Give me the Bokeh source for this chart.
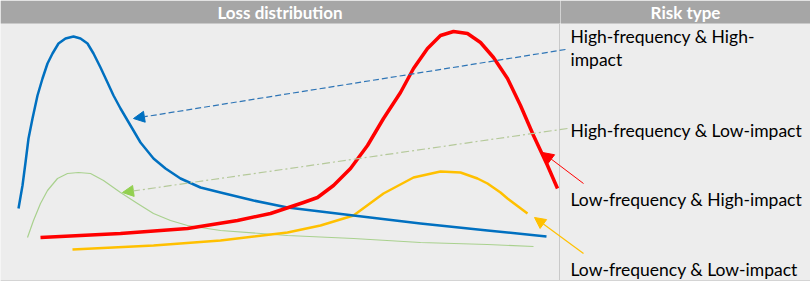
from bokeh.plotting import figure
from bokeh.models import Range1d, Arrow, NormalHead
from bokeh.core.properties import value
from bokeh.embed import file_html
from bokeh.resources import INLINE

# Schematic loss-distribution curves (x = loss position, y = screen-down height)
hf_hi_x = [18, 22, 25, 28, 32, 37, 42, 47, 52, 58, 65, 73, 80, 87, 93, 100, 107, 113, 120,
           130, 140, 153, 165, 180, 200, 220, 253, 287, 353, 420, 487, 546]
hf_hi_y = [208, 185, 162, 138, 118, 95, 78, 63, 53, 43, 38, 36, 38, 43, 53, 67, 82, 95, 108,
           125, 142, 158, 168, 178, 187, 192, 200, 207, 215, 223, 230, 236]

hf_lo_x = [27, 33, 40, 47, 57, 67, 78, 90, 103, 120, 137, 153, 170, 187, 220, 287, 353, 420, 487, 533]
hf_lo_y = [237, 220, 203, 190, 178, 173, 172, 173, 180, 192, 203, 213, 220, 225, 230, 235, 238, 242, 244, 246]

lf_hi_x = [40, 120, 187, 237, 270, 303, 317, 333, 350, 367, 383, 400, 413, 427, 440, 453,
           467, 480, 493, 507, 520, 533, 547, 557]
lf_hi_y = [237, 233, 228, 220, 213, 202, 197, 185, 168, 145, 118, 92, 68, 48, 35, 31,
           33, 42, 57, 78, 105, 135, 165, 188]

lf_lo_x = [72, 153, 220, 287, 320, 353, 383, 413, 440, 460, 477, 487, 500, 507, 527]
lf_lo_y = [249, 245, 240, 232, 225, 215, 193, 177, 171, 172, 178, 183, 192, 198, 213]

risk_labels = ["High-frequency & High-", "impact", "High-frequency & Low-impact",
               "Low-frequency & High-impact", "Low-frequency & Low-impact"]
label_y = [36, 59, 130, 199, 269]

headers = ["Loss distribution", "Risk type"]
header_x = [279.5, 685]

p = figure(width=810, height=281, x_range=Range1d(0, 810), y_range=Range1d(281, 0),
           output_backend="svg", toolbar_location=None, min_border=0,
           background_fill_color="#EDEDED", border_fill_color="#EDEDED")
p.axis.visible = False
p.grid.visible = False
p.outline_line_color = None

# header band and column separators
p.quad(left=0, right=810, top=0, bottom=23, fill_color="#A6A6A6", line_color=None)
p.segment(x0=559, y0=23, x1=559, y1=281, line_color="#C9C9C9", line_width=1)
p.segment(x0=560, y0=0, x1=560, y1=23, line_color="white", line_width=1, line_dash="1 1")
p.segment(x0=0, y0=280, x1=810, y1=280, line_color="#D4D4D4", line_width=1)

p.text(x=header_x, y=[12, 12], text=headers, text_color="white", text_align="center",
       text_baseline="alphabetic", text_font=value("Lato"), text_font_style="bold",
       text_font_size="17px")

# curves
p.line(hf_lo_x, hf_lo_y, line_color="#A9D18E", line_width=1.2, line_join="round")
p.line(lf_lo_x, lf_lo_y, line_color="#FFC000", line_width=2.5, line_join="round")
p.line(hf_hi_x, hf_hi_y, line_color="#0070C0", line_width=2.5, line_join="round")
p.line(lf_hi_x, lf_hi_y, line_color="#FF0000", line_width=3.5, line_join="round")

# pointers from the risk-type labels to their curves
p.add_layout(Arrow(x_start=565, y_start=49, x_end=133, y_end=118,
                   line_color="#2E75B6", line_width=1.2, line_dash="6 3",
                   end=NormalHead(size=11, fill_color="#0070C0", line_color="#0070C0")))
p.add_layout(Arrow(x_start=567, y_start=128, x_end=122, y_end=192,
                   line_color="#B5C99A", line_width=1.2, line_dash="8 3 2 3",
                   end=NormalHead(size=11, fill_color="#92D050", line_color="#92D050")))
p.add_layout(Arrow(x_start=583, y_start=183, x_end=542, y_end=152,
                   line_color="#FF0000", line_width=1,
                   end=NormalHead(size=11, fill_color="#FF0000", line_color="#FF0000")))
p.add_layout(Arrow(x_start=583, y_start=253, x_end=534, y_end=217,
                   line_color="#FFC000", line_width=1.2,
                   end=NormalHead(size=11, fill_color="#FFC000", line_color="#FFC000")))

p.text(x=[570] * len(risk_labels), y=label_y, text=risk_labels, text_color="black",
       text_align="left", text_baseline="alphabetic", text_font=value("Lato"),
       text_font_size="17.5px")

open("out.html", "w").write(file_html(p, INLINE))
